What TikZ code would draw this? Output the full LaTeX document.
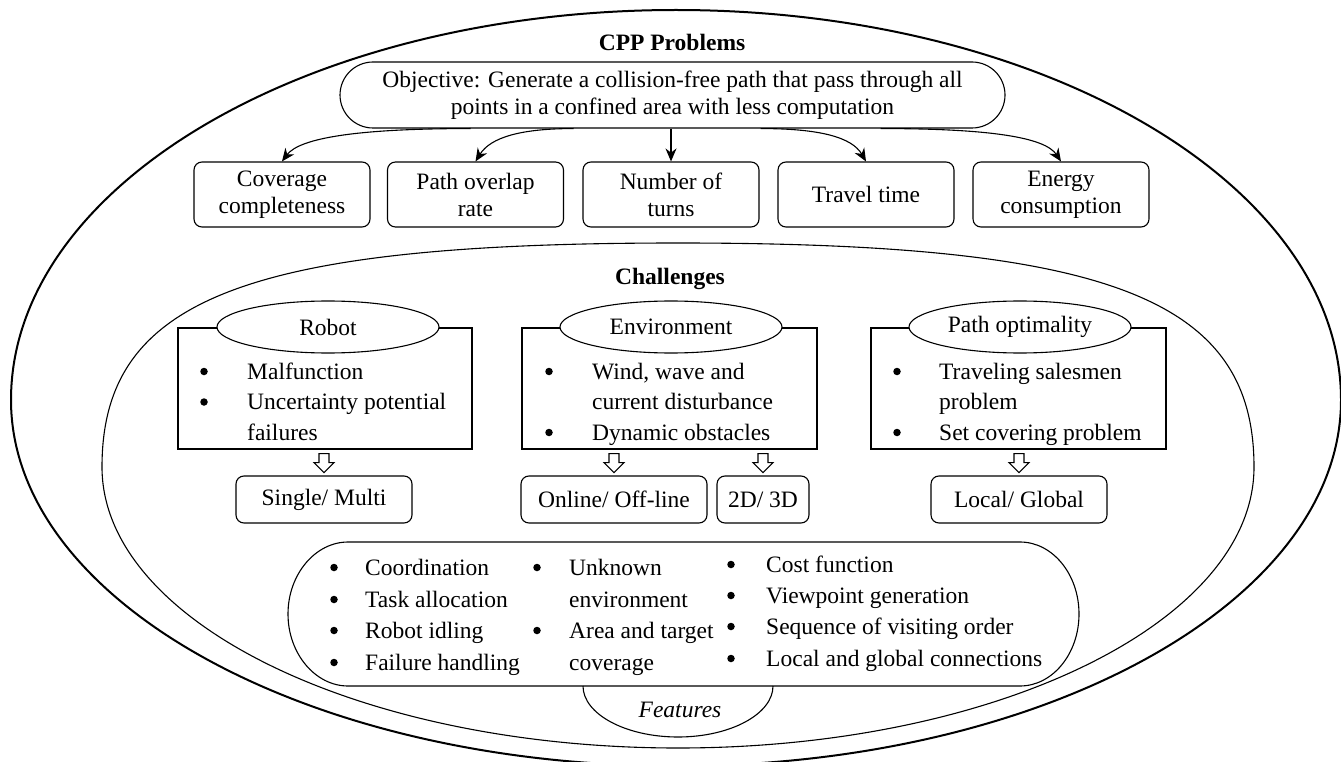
\documentclass[tikz,border=0pt]{standalone}
\usepackage{fontspec}
\setmainfont{Liberation Serif}
\usetikzlibrary{shapes.geometric,arrows.meta,calc}
\begin{document}
\begin{tikzpicture}[x=1pt,y=-1pt,
  every node/.style={font=\fontsize{23.5}{27}\selectfont, inner sep=0pt},
  tbox/.style={draw, line width=1.1pt, rounded corners=8pt, minimum width=176pt, minimum height=65pt, align=center},
  sbox/.style={draw, line width=1.1pt, rounded corners=8pt, minimum height=47pt, align=center},
  frame/.style={draw, line width=1.1pt},
  oval/.style={ellipse, draw, line width=1.1pt, fill=white, minimum width=222pt, minimum height=52pt},
  arr/.style={line width=1.1pt, -{Stealth[length=13pt,width=11pt]}},
  bul/.style={circle, fill, minimum size=7.5pt, yshift=7.5pt},
  itm/.style={anchor=base west},
  hollow/.pic={\draw[line width=1.1pt, fill=white] (-5,0) -- (-5,9) -- (-10,9) -- (0,19) -- (10,9) -- (5,9) -- (5,0) -- cycle;}
]
\useasboundingbox (0,0) rectangle (1341,762);

% outer ellipse
\draw[line width=2pt] (11,400) .. controls (11,184.7) and (308.9,10) .. (676,10)
  .. controls (1043.1,10) and (1341,184.7) .. (1341,400)
  .. controls (1341,602) and (1043.1,766) .. (676,766)
  .. controls (308.9,766) and (11,602) .. (11,400) -- cycle;

% inner ellipse
\draw[line width=1.1pt] (102,467) .. controls (102,299) and (246,243) .. (678,243)
  .. controls (1110,243) and (1254,299) .. (1254,467)
  .. controls (1254,622) and (996,748) .. (678,748)
  .. controls (360,748) and (102,622) .. (102,467) -- cycle;

% titles
\node[anchor=base, font=\fontsize{23.5}{27}\selectfont\bfseries] (title) at (672,51) {CPP Problems};
\node[anchor=base, font=\fontsize{23.5}{27}\selectfont\bfseries] (chal) at (670,284) {Challenges};

% objective
\node[draw, line width=1.1pt, rounded corners=33pt, minimum width=665pt, minimum height=66pt, align=center] (obj) at (672.5,95)
  {Objective: Generate a collision-free path that pass through all\\points in a confined area with less computation};

% five criteria
\node[tbox] (b1) at (282,194.5) {Coverage\\completeness};
\node[tbox] (b2) at (475.5,194.5) {Path overlap\\rate};
\node[tbox] (b3) at (671,194.5) {Number of\\turns};
\node[tbox] (b4) at (866,194.5) {Travel time};
\node[tbox] (b5) at (1061,194.5) {Energy\\consumption};

\draw[arr] ([xshift=-202pt]obj.south) .. controls +(-110,0) and +(18,-24) .. (b1.north);
\draw[arr] ([xshift=-99pt]obj.south) .. controls +(-53,0) and +(15,-24) .. (b2.north);
\draw[arr] (obj.south -| b3.north) -- (b3.north);
\draw[arr] ([xshift=88pt]obj.south) .. controls +(60,0) and +(-14,-24) .. (b4.north);
\draw[arr] ([xshift=208pt]obj.south) .. controls +(110,0) and +(-16,-24) .. (b5.north);

% challenge frames
\node[frame, minimum width=294pt, minimum height=121pt] (rr) at (325,388.5) {};
\node[frame, minimum width=295pt, minimum height=121pt] (er) at (669.5,388.5) {};
\node[frame, minimum width=295pt, minimum height=121pt] (pr) at (1018.5,388.5) {};
\node[oval] (ro) at (328,327) {Robot};
\node[oval] (eo) at (671,327) {Environment};
\node[oval] (po) at (1020,327) {Path optimality};

% robot items
\node[bul] (rb1) at (204,379) {};
\node[itm] (rt1) at (247,379) {Malfunction};
\node[bul] (rb2) at (204,409.5) {};
\node[itm] (rt2) at (247,409.5) {Uncertainty potential};
\node[itm] (rt3) at (247,440) {failures};
% environment items
\node[bul] (eb1) at (549,379) {};
\node[itm] (et1) at (592,379) {Wind, wave and};
\node[itm] (et2) at (592,409.5) {current disturbance};
\node[bul] (eb3) at (549,440) {};
\node[itm] (et3) at (592,440) {Dynamic obstacles};
% path items
\node[bul] (pb1) at (897,379) {};
\node[itm] (pt1) at (939,379) {Traveling salesmen};
\node[itm] (pt2) at (939,409.5) {problem};
\node[bul] (pb3) at (897,440) {};
\node[itm] (pt3) at (939,440) {Set covering problem};

% result boxes
\node[sbox, minimum width=176pt] (sm) at (324,499.5) {Single/ Multi};
\node[sbox, minimum width=186pt] (ol) at (614,499.5) {Online/ Off-line};
\node[sbox, minimum width=92pt] (dd) at (763,499.5) {2D/ 3D};
\node[sbox, minimum width=176pt] (lg) at (1019,499.5) {Local/ Global};

\pic at ($(rr.south -| sm.north)+(0,4)$) {hollow};
\pic at ($(er.south -| ol.north)+(0,4)$) {hollow};
\pic at ($(er.south -| dd.north)+(0,4)$) {hollow};
\pic at ($(pr.south -| lg.north)+(0,4)$) {hollow};

% features
\draw[line width=1.1pt, fill=white] (348,542) -- (1020,542)
  .. controls (1052.6,542) and (1079,574.3) .. (1079,614)
  .. controls (1079,653.7) and (1052.6,686) .. (1020,686) -- (348,686)
  .. controls (315.4,686) and (288,653.7) .. (288,614)
  .. controls (288,574.3) and (315.4,542) .. (348,542) -- cycle;
\draw[line width=1.1pt] (583,686) .. controls (583,714) and (625.6,737) .. (678,737)
  .. controls (730.4,737) and (773,714) .. (773,686);
\node[anchor=base, font=\fontsize{23.5}{27}\selectfont\itshape] (feat) at (680,717) {Features};

\node[bul] (f1b1) at (334,575) {};
\node[itm] (f1t1) at (365,575) {Coordination};
\node[bul] (f1b2) at (334,607) {};
\node[itm] (f1t2) at (365,607) {Task allocation};
\node[bul] (f1b3) at (334,638) {};
\node[itm] (f1t3) at (365,638) {Robot idling};
\node[bul] (f1b4) at (334,670) {};
\node[itm] (f1t4) at (365,670) {Failure handling};

\node[bul] (f2b1) at (537,575) {};
\node[itm] (f2t1) at (569,575) {Unknown};
\node[itm] (f2t2) at (569,607) {environment};
\node[bul] (f2b3) at (537,638) {};
\node[itm] (f2t3) at (569,638) {Area and target};
\node[itm] (f2t4) at (569,670) {coverage};

\node[bul] (f3b1) at (731,572) {};
\node[itm] (f3t1) at (766,572) {Cost function};
\node[bul] (f3b2) at (731,603) {};
\node[itm] (f3t2) at (766,603) {Viewpoint generation};
\node[bul] (f3b3) at (731,634) {};
\node[itm] (f3t3) at (766,634) {Sequence of visiting order};
\node[bul] (f3b4) at (731,666) {};
\node[itm] (f3t4) at (766,666) {Local and global connections};
\end{tikzpicture}
\end{document}
